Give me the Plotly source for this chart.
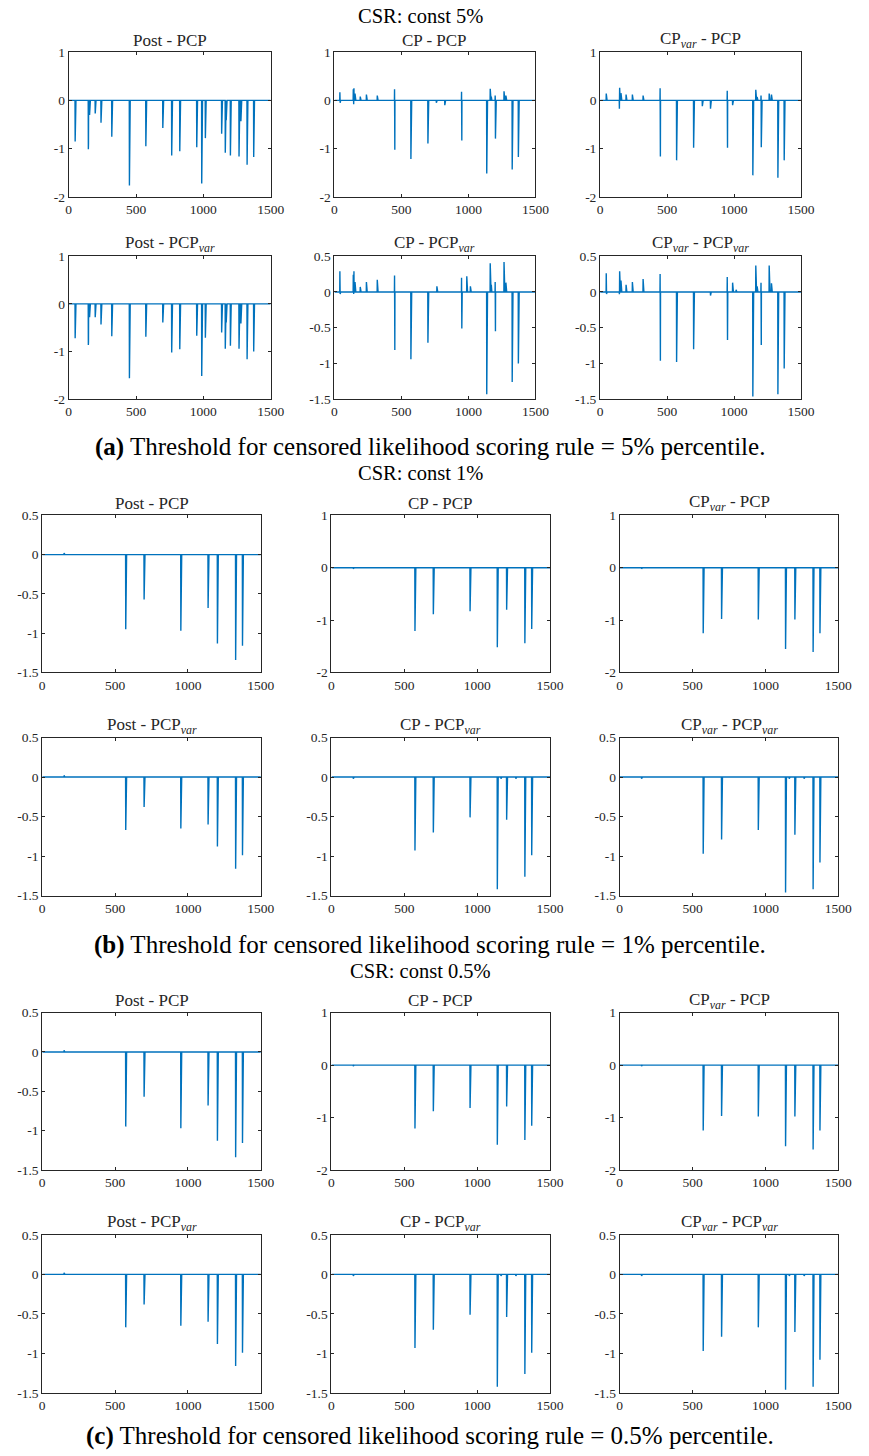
import numpy as np
import plotly.graph_objects as go

W, H = 869, 1456
# the photographed page shows the figure 8px lower and squeezed by ~0.989 vertically
OY, SY = 8.0, 0.989
N = 1500
BLUE = "#0072BD"
AX = "#262626"
FONT = "Liberation Serif"

# ---------------- data: spike times and values per panel ----------------
# (a) CSR const 5%
a11_t = [48, 146, 147, 155, 197, 240, 320, 451, 573, 699, 765, 825, 951, 988, 1015, 1136, 1163, 1170, 1201, 1265, 1279, 1325, 1374]
a11_v = [-0.85, -1.01, -0.9, -0.3, -0.27, -0.46, -0.75, -1.76, -0.95, -0.57, -1.14, -1.05, -0.97, -1.72, -0.78, -0.69, -1.08, -0.41, -1.14, -1.16, -0.43, -1.33, -1.17]

a12_t = [41, 43, 141, 144, 146, 154, 193, 239, 320, 449, 451, 571, 698, 761, 824, 949, 951, 1137, 1163, 1171, 1200, 1202, 1266, 1280, 1327, 1373]
a12_v = [0.17, -0.05, 0.23, -0.08, 0.25, 0.14, 0.08, 0.12, 0.10, 0.23, -1.02, -1.21, -0.89, -0.05, -0.10, 0.18, -0.83, -1.51, 0.24, 0.08, 0.10, -0.79, 0.19, 0.10, -1.43, -1.17]

a13_t = [46, 144, 146, 156, 194, 241, 321, 448, 450, 571, 698, 763, 824, 949, 951, 989, 1140, 1162, 1172, 1201, 1203, 1262, 1279, 1327, 1374]
a13_v = [0.14, -0.17, 0.26, 0.15, 0.12, 0.12, 0.10, 0.25, -1.16, -1.24, -0.98, -0.12, -0.17, 0.20, -0.98, -0.10, -1.55, 0.22, 0.07, 0.10, -0.97, 0.14, 0.12, -1.60, -1.24]

a21_t = [48, 146, 147, 155, 197, 240, 320, 451, 573, 699, 765, 825, 951, 988, 1015, 1136, 1163, 1170, 1201, 1265, 1279, 1325, 1374]
a21_v = [-0.72, -0.86, -0.8, -0.28, -0.28, -0.43, -0.68, -1.56, -0.69, -0.39, -1.02, -0.95, -0.67, -1.51, -0.71, -0.60, -0.94, -0.39, -0.88, -0.94, -0.41, -1.16, -1.00]

a22_t = [41, 43, 141, 144, 146, 154, 193, 239, 320, 449, 451, 571, 698, 765, 949, 951, 988, 1015, 1137, 1163, 1171, 1200, 1202, 1266, 1280, 1327, 1373]
a22_v = [0.29, -0.03, 0.24, -0.03, 0.29, 0.14, 0.07, 0.14, 0.17, 0.23, -0.81, -0.94, -0.71, 0.08, 0.20, -0.51, 0.22, 0.08, -1.43, 0.40, 0.10, 0.14, -0.55, 0.42, 0.13, -1.26, -1.00]

a23_t = [46, 48, 144, 146, 156, 194, 241, 321, 448, 450, 571, 698, 824, 949, 951, 989, 1015, 1140, 1162, 1172, 1201, 1203, 1262, 1279, 1327, 1374]
a23_v = [0.26, -0.03, -0.03, 0.29, 0.16, 0.10, 0.14, 0.18, 0.25, -0.96, -0.98, -0.80, -0.05, 0.21, -0.67, 0.13, 0.03, -1.46, 0.37, 0.08, 0.13, -0.74, 0.37, 0.12, -1.43, -1.07]

# (b) CSR const 1%
b11_t = [150, 573, 699, 951, 1138, 1202, 1327, 1374]
b11_v = [0.02, -0.95, -0.57, -0.97, -0.68, -1.13, -1.34, -1.16]
b12_t = [150, 573, 699, 951, 1138, 1202, 1327, 1374]
b12_v = [-0.02, -1.21, -0.89, -0.83, -1.52, -0.80, -1.44, -1.17]
b13_t = [150, 573, 699, 951, 1138, 1202, 1327, 1374]
b13_v = [-0.02, -1.25, -0.98, -0.99, -1.55, -0.99, -1.61, -1.25]
b21_t = [150, 573, 699, 951, 1138, 1202, 1327, 1374]
b21_v = [0.02, -0.67, -0.38, -0.65, -0.60, -0.88, -1.16, -0.99]
b22_t = [150, 573, 699, 951, 1138, 1163, 1202, 1265, 1327, 1374]
b22_v = [-0.02, -0.93, -0.70, -0.51, -1.42, -0.02, -0.54, -0.02, -1.26, -0.99]
b23_t = [150, 573, 699, 951, 1138, 1163, 1202, 1265, 1327, 1374]
b23_v = [-0.02, -0.97, -0.79, -0.67, -1.46, -0.02, -0.73, -0.02, -1.42, -1.08]

# (c) CSR const 0.5%
c11_t = [150, 573, 699, 951, 1138, 1202, 1327, 1374]
c11_v = [0.02, -0.95, -0.57, -0.97, -0.68, -1.13, -1.34, -1.16]
c12_t = [150, 573, 699, 951, 1138, 1202, 1327, 1374]
c12_v = [-0.02, -1.21, -0.88, -0.82, -1.52, -0.79, -1.43, -1.16]
c13_t = [150, 573, 699, 951, 1138, 1202, 1327, 1374]
c13_v = [-0.02, -1.25, -0.97, -0.98, -1.55, -0.98, -1.61, -1.25]
c21_t = [150, 573, 699, 951, 1138, 1202, 1327, 1374]
c21_v = [0.02, -0.67, -0.38, -0.65, -0.60, -0.88, -1.16, -0.99]
c22_t = [150, 573, 699, 951, 1138, 1163, 1202, 1265, 1327, 1374]
c22_v = [-0.02, -0.93, -0.70, -0.51, -1.42, -0.02, -0.54, -0.02, -1.26, -0.99]
c23_t = [150, 573, 699, 951, 1138, 1163, 1202, 1265, 1327, 1374]
c23_v = [-0.02, -0.97, -0.79, -0.67, -1.46, -0.02, -0.73, -0.02, -1.42, -1.08]

panel_titles = [
    "Post - PCP", "CP - PCP", "CP<sub><i>var</i></sub> - PCP",
    "Post - PCP<sub><i>var</i></sub>", "CP - PCP<sub><i>var</i></sub>",
    "CP<sub><i>var</i></sub> - PCP<sub><i>var</i></sub>",
]
group_titles = ["CSR: const 5%", "CSR: const 1%", "CSR: const 0.5%"]
captions = [
    "<b>(a)</b> Threshold for censored likelihood scoring rule = 5% percentile.",
    "<b>(b)</b> Threshold for censored likelihood scoring rule = 1% percentile.",
    "<b>(c)</b> Threshold for censored likelihood scoring rule = 0.5% percentile.",
]
x_ticks = [0, 500, 1000, 1500]
y_ticks_wide = [-2, -1, 0, 1]
y_ticks_narrow = [-1.5, -1, -0.5, 0, 0.5]

def fmt(v):
    return "%g" % v

# ---------------- layout geometry (page pixels of the reference) ----------------
cols_a = [(67, 273), (338, 543), (609, 814)]
cols_bc = [(40, 263), (335, 558), (629, 852)]
rows = [
    [(53, 198), (257, 400)],
    [(516, 673), (738, 896)],
    [(1013, 1170), (1235, 1393)],
]
group_title_y = [13, 474, 971]
caption_y = [448, 945, 1442]

def px(x):
    return x / W

def fy(y):
    return (y - OY) / SY

def py(y, lo=0.0, hi=None):
    f = fy(y)
    if hi is not None:
        f = min(f, hi)
    f = max(f, lo)
    return 1 - f / H

panels = [
    [(a11_t, a11_v, y_ticks_wide), (a12_t, a12_v, y_ticks_wide), (a13_t, a13_v, y_ticks_wide),
     (a21_t, a21_v, y_ticks_wide), (a22_t, a22_v, y_ticks_narrow), (a23_t, a23_v, y_ticks_narrow)],
    [(b11_t, b11_v, y_ticks_narrow), (b12_t, b12_v, y_ticks_wide), (b13_t, b13_v, y_ticks_wide),
     (b21_t, b21_v, y_ticks_narrow), (b22_t, b22_v, y_ticks_narrow), (b23_t, b23_v, y_ticks_narrow)],
    [(c11_t, c11_v, y_ticks_narrow), (c12_t, c12_v, y_ticks_wide), (c13_t, c13_v, y_ticks_wide),
     (c21_t, c21_v, y_ticks_narrow), (c22_t, c22_v, y_ticks_narrow), (c23_t, c23_v, y_ticks_narrow)],
]

fig = go.Figure()
layout = dict(
    width=W, height=H, margin=dict(l=0, r=0, t=0, b=0),
    paper_bgcolor="white", plot_bgcolor="white", showlegend=False,
    font=dict(family=FONT, color=AX, size=13),
)
annotations = []
t_axis = np.arange(1, N + 1)

k = 0
for g in range(3):
    cols = cols_a if g == 0 else cols_bc
    for idx, (tt, vv, yt) in enumerate(panels[g]):
        r, c = divmod(idx, 3)
        k += 1
        xa = "xaxis" if k == 1 else "xaxis%d" % k
        ya = "yaxis" if k == 1 else "yaxis%d" % k
        xref = "x" if k == 1 else "x%d" % k
        yref = "y" if k == 1 else "y%d" % k
        y = np.zeros(N)
        for t, v in zip(tt, vv):
            y[t - 1] = v
        fig.add_trace(go.Scatter(x=t_axis, y=y, mode="lines", xaxis=xref, yaxis=yref,
                                 line=dict(color=BLUE, width=1.4), hoverinfo="skip"))
        x0, x1 = cols[c]
        y0, y1 = rows[g][r]
        common = dict(showgrid=False, zeroline=False, showline=True, linecolor=AX, linewidth=1,
                      mirror="allticks", ticks="inside", ticklen=3, tickcolor=AX, tickwidth=1,
                      tickfont=dict(family=FONT, size=13.5, color=AX))
        layout[xa] = dict(domain=[px(x0), px(x1)], range=[0, 1500], anchor=yref,
                          tickvals=x_ticks, ticktext=[fmt(v) for v in x_ticks], **common)
        layout[ya] = dict(domain=[py(y1), py(y0)], range=[yt[0], yt[-1]], anchor=xref,
                          tickvals=yt, ticktext=[fmt(v) for v in yt], **common)
        annotations.append(dict(text=panel_titles[idx], x=px((x0 + x1) / 2), y=py(y0 - 12),
                                xref="paper", yref="paper", showarrow=False, xanchor="center",
                                yanchor="middle", font=dict(family=FONT, size=17, color=AX)))
    annotations.append(dict(text=group_titles[g], x=px(426), y=py(group_title_y[g], lo=9),
                            xref="paper", yref="paper", showarrow=False, xanchor="center",
                            yanchor="middle", font=dict(family=FONT, size=20.5, color="black")))
    annotations.append(dict(text=captions[g], x=px(436), y=py(caption_y[g], hi=H - 12),
                            xref="paper", yref="paper", showarrow=False, xanchor="center",
                            yanchor="middle", font=dict(family=FONT, size=25, color="black")))

layout["annotations"] = annotations
fig.update_layout(**layout)
fig.write_html("out.html")
